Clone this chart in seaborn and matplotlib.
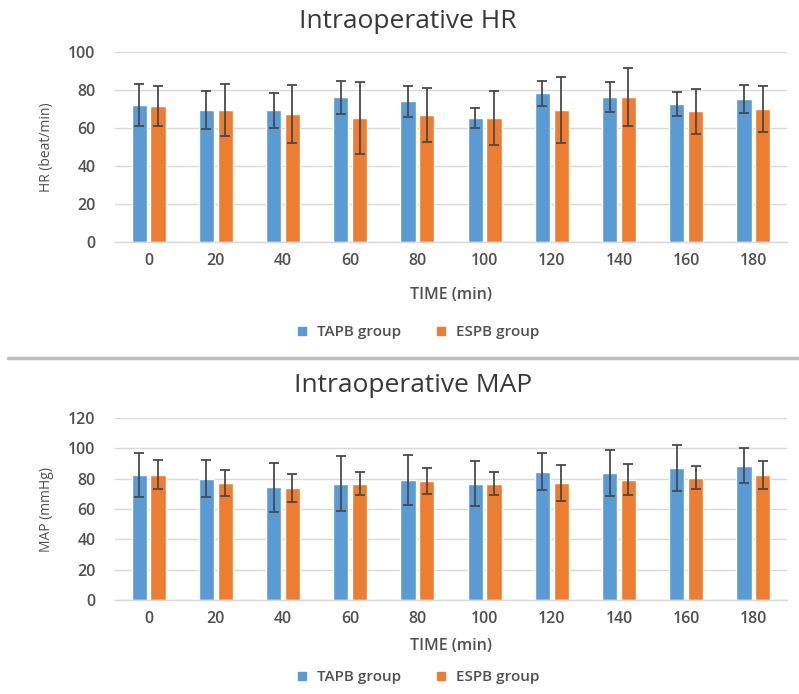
import matplotlib

matplotlib.use("Agg")
import matplotlib.pyplot as plt
import numpy as np
import pandas as pd
import seaborn as sns
from matplotlib.lines import Line2D

# Time points (min)
times = ["0", "20", "40", "60", "80", "100", "120", "140", "160", "180"]
groups = ["TAPB group", "ESPB group"]

# Heart rate (beat/min): mean and SD
hr_tapb = [72.1, 69.4, 69.4, 76.1, 74.0, 65.2, 78.2, 76.1, 72.8, 75.4]
hr_tapb_sd = [11.3, 10.0, 9.2, 8.5, 8.3, 5.2, 6.7, 7.9, 6.3, 7.3]
hr_espb = [71.4, 69.4, 67.3, 65.4, 66.6, 65.2, 69.4, 76.1, 68.7, 70.1]
hr_espb_sd = [10.5, 13.6, 15.3, 19.0, 14.2, 14.2, 17.5, 15.3, 11.6, 12.0]

# Mean arterial pressure (mmHg): mean and SD
map_tapb = [82.5, 79.9, 74.2, 76.8, 79.2, 76.8, 84.7, 83.8, 87.1, 88.6]
map_tapb_sd = [14.3, 12.3, 16.1, 18.0, 16.6, 15.0, 12.5, 15.3, 15.0, 11.3]
map_espb = [82.5, 77.4, 73.7, 76.8, 78.5, 76.8, 77.4, 79.2, 80.7, 82.3]
map_espb_sd = [9.6, 8.6, 9.2, 7.8, 8.7, 7.8, 11.8, 10.2, 7.8, 9.3]

colors = ["#5B9BD5", "#ED7D31"]
text_color = "#505050"
grid_color = "#D9D9D9"

sns.set_theme(style="white")
plt.rcParams["font.family"] = ["Open Sans", "DejaVu Sans"]


def draw_panel(ax, tapb, tapb_sd, espb, espb_sd, ymax, ylabel, ticks_between):
    df = pd.DataFrame({
        "time": times * 2,
        "group": [groups[0]] * len(times) + [groups[1]] * len(times),
        "value": tapb + espb,
    })
    sns.barplot(
        data=df, x="time", y="value", hue="group", order=times,
        hue_order=groups, palette=colors, width=0.56, gap=0.2,
        errorbar=None, saturation=1, legend=False, ax=ax,
    )
    for container, sd in zip(ax.containers, [tapb_sd, espb_sd]):
        xs = [p.get_x() + p.get_width() / 2 for p in container]
        ys = [p.get_height() for p in container]
        ax.errorbar(xs, ys, yerr=sd, fmt="none", ecolor="#4A4A4A",
                    elinewidth=1.3, capsize=3.5, capthick=1.3, zorder=3)
    ax.set_ylim(0, ymax)
    ax.set_xlim(-0.5, len(times) - 0.5)
    ax.set_yticks(np.arange(0, ymax + 1, 20))
    ax.yaxis.grid(True, color=grid_color, linewidth=1)
    ax.set_axisbelow(True)
    for side in ["top", "right", "left"]:
        ax.spines[side].set_visible(False)
    ax.spines["bottom"].set_color(grid_color)
    ax.spines["bottom"].set_linewidth(1)
    ax.tick_params(axis="y", length=0, labelsize=11.5, labelcolor=text_color, pad=14)
    ax.tick_params(axis="x", length=0, labelsize=11.5, labelcolor=text_color, pad=8)
    if ticks_between:
        ax.set_xticks(np.arange(-0.5, len(times), 1), minor=True)
        ax.tick_params(axis="x", which="minor", length=4, color=grid_color, width=1)
    for lab in ax.get_xticklabels() + ax.get_yticklabels():
        lab.set_fontweight("semibold")
    ax.set_ylabel(ylabel, fontsize=10, color=text_color, labelpad=10)


fig = plt.figure(figsize=(7.99, 6.94), dpi=100)

ax1 = fig.add_axes([115 / 799, 452 / 694, 672 / 799, 190 / 694])
draw_panel(ax1, hr_tapb, hr_tapb_sd, hr_espb, hr_espb_sd, 100, "HR (beat/min)", False)
ax1.set_xlabel("TIME (min)", fontsize=11.5, color=text_color, fontweight="semibold", labelpad=13)

ax2 = fig.add_axes([115 / 799, 94 / 694, 672 / 799, 182 / 694])
draw_panel(ax2, map_tapb, map_tapb_sd, map_espb, map_espb_sd, 120, "MAP (mmHg)", True)
ax2.set_xlabel("TIME (min)", fontsize=11.5, color=text_color, fontweight="semibold", labelpad=8)

fig.text(408 / 799, 1 - 22 / 694, "Intraoperative HR", ha="center", va="center",
         fontsize=19, color="#383838")
fig.text(413 / 799, 1 - 385 / 694, "Intraoperative MAP", ha="center", va="center",
         fontsize=19, color="#383838")

# divider between the two charts
fig.add_artist(Line2D([8 / 799, 1], [1 - 358 / 694] * 2, color="#BFBFBF", linewidth=2.5))

handles = [Line2D([], [], marker="s", linestyle="none", markersize=6, color=c) for c in colors]
for ypix in [332, 677]:
    fig.legend(handles, groups, loc="center", bbox_to_anchor=(413 / 799, 1 - ypix / 694),
               ncol=2, frameon=False, fontsize=11, handletextpad=0.0,
               columnspacing=1.6, labelcolor=text_color,
               prop={"weight": "semibold", "size": 11})

fig.savefig("out.png", dpi=100)
